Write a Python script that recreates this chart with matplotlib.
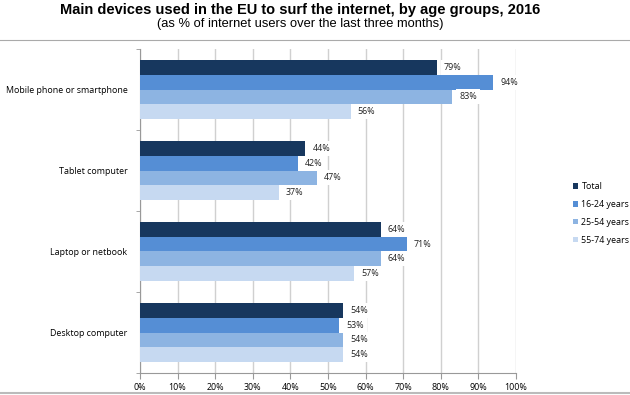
import matplotlib
matplotlib.use("Agg")
import matplotlib.pyplot as plt
import numpy as np

categories = ["Mobile phone or smartphone", "Tablet computer", "Laptop or netbook", "Desktop computer"]
series_names = ["Total", "16-24 years", "25-54 years", "55-74 years"]
total = [79, 44, 64, 54]
age_16_24 = [94, 42, 71, 53]
age_25_54 = [83, 47, 64, 54]
age_55_74 = [56, 37, 57, 54]
xticks = [0, 10, 20, 30, 40, 50, 60, 70, 80, 90, 100]

series = [total, age_16_24, age_25_54, age_55_74]
colors = ["#17375E", "#558ED5", "#8DB4E2", "#C6D9F1"]
FONT = "Open Sans"
FS = 6.4

fig = plt.figure(figsize=(6.3, 3.95), dpi=100)
ax = fig.add_axes([140/630, 1-373/395, 376/630, 324/395])

n = len(categories)
bh = 0.18
for i, (vals, col, name) in enumerate(zip(series, colors, series_names)):
    ys = [c + (i - 1.5) * bh for c in range(n)]
    ax.barh(ys, vals, height=bh, color=col, label=name, zorder=3)
    for y, v in zip(ys, vals):
        ax.annotate(f"{v}%", (v, y), xytext=(5, 0), textcoords="offset points",
                    va="center", ha="left", fontsize=FS, family=FONT,
                    color="#222222", zorder=5,
                    bbox=dict(boxstyle="square,pad=0.35", fc="white", ec="none"))

ax.set_xlim(0, 100)
ax.set_ylim(n - 0.5, -0.5)
ax.set_xticks(xticks)
ax.set_xticklabels([f"{t}%" for t in xticks], fontsize=FS, family=FONT)
ax.set_yticks(range(n))
ax.set_yticklabels(categories, fontsize=FS, family=FONT)
ax.tick_params(axis="y", length=0, pad=9)
ax.tick_params(axis="x", length=4, color="#999999", pad=3, direction="out")
ax.set_yticks([-0.5, 0.5, 1.5, 2.5, 3.5], minor=True)
ax.tick_params(axis="y", which="minor", length=3, color="#999999")
ax.xaxis.grid(True, color="#D0D0D0", linewidth=1.0, zorder=0)
for s in ["top", "right"]:
    ax.spines[s].set_visible(False)
for s in ["left", "bottom"]:
    ax.spines[s].set_color("#999999")

leg = ax.legend(loc="upper left", bbox_to_anchor=(565/630, 1-174/395), bbox_transform=fig.transFigure,
                frameon=False, prop={"family": FONT, "size": FS},
                handlelength=0.6, handleheight=0.6, handletextpad=0.35, labelspacing=1.0)

fig.text(300/630, 1-10/395, "Main devices used in the EU to surf the internet, by age groups, 2016",
         ha="center", va="center", fontsize=10.5, fontweight="bold", family="Liberation Sans")
fig.text(300/630, 1-24/395, "(as % of internet users over the last three months)",
         ha="center", va="center", fontsize=9.3, family="Liberation Sans")
fig.add_artist(plt.Line2D([0, 1], [1-40/395, 1-40/395], color="#AAAAAA", linewidth=0.8))
fig.add_artist(plt.Line2D([0, 1], [1-393/395, 1-393/395], color="#BBBBBB", linewidth=1.5))

fig.savefig("out.png", dpi=100)
